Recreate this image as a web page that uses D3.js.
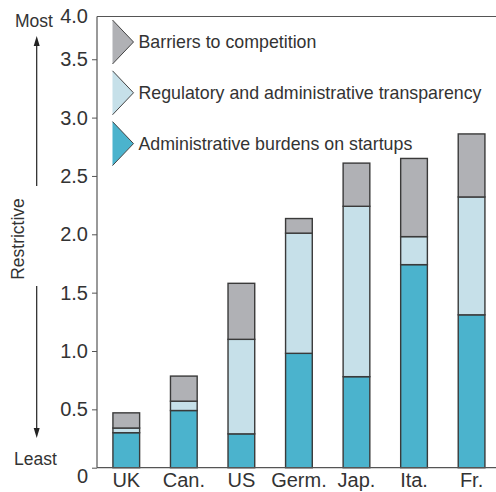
<!DOCTYPE html>
<html>
<head>
<meta charset="utf-8">
<script src="https://cdn.jsdelivr.net/npm/d3@7"></script>
<style>
  body { margin: 0; background: #fff; }
  svg text { font-family: "Liberation Sans", Arial, sans-serif; fill: #333; }
</style>
</head>
<body>
<svg id="chart" width="496" height="492"></svg>
<script>
// data
const countries = ["UK", "Can.", "US", "Germ.", "Jap.", "Ita.", "Fr."];
const startups = [0.30, 0.49, 0.29, 0.98, 0.78, 1.74, 1.31];
const transparency = [0.04, 0.08, 0.81, 1.03, 1.46, 0.24, 1.01];
const barriers = [0.13, 0.215, 0.48, 0.125, 0.37, 0.67, 0.54];
const seriesNames = ["Barriers to competition", "Regulatory and administrative transparency", "Administrative burdens on startups"];
const yTicks = [0, 0.5, 1.0, 1.5, 2.0, 2.5, 3.0, 3.5];

const colours = {
  startups: "#4bb3cd",
  transparency: "#c6e0e9",
  barriers: "#b0b1b5"
};

const svg = d3.select("#chart");
const axisX = 97;
const frameTop = 16.5;

const rows = countries.map((c, i) => ({
  country: c, startups: startups[i], transparency: transparency[i], barriers: barriers[i]
}));
const keys = ["startups", "transparency", "barriers"];
const stacked = d3.stack().keys(keys)(rows);

const x = d3.scaleBand()
  .domain(countries)
  .range([axisX + 0.5, axisX + 0.5 + 7 * 57.55])
  .paddingInner(0.536)
  .paddingOuter(0.268);

const y = d3.scaleLinear().domain([0, 4]).range([467.7, 0.9]);

// bars
svg.append("g").selectAll("g").data(stacked).enter().append("g")
    .attr("fill", d => colours[d.key])
  .selectAll("rect").data(d => d).enter().append("rect")
    .attr("x", d => x(d.data.country))
    .attr("y", d => y(d[1]))
    .attr("width", x.bandwidth())
    .attr("height", d => y(d[0]) - y(d[1]))
    .attr("stroke", "#3a3a3a")
    .attr("stroke-width", 1.4);

// y axis
const yAxis = d3.axisLeft(y)
  .tickValues(yTicks)
  .tickSize(5)
  .tickSizeOuter(0)
  .tickFormat(d => d === 0 ? "0" : d3.format(".1f")(d));

const yG = svg.append("g")
  .attr("transform", `translate(${axisX},0)`)
  .call(yAxis);
yG.select(".domain").remove();
yG.selectAll(".tick line").attr("stroke", "#555");
yG.selectAll(".tick text")
  .attr("x", -9)
  .attr("y", d => d === 0 ? 8 : 0)
  .style("font-size", "20px")
  .attr("fill", "#333");

// 4.0 sits on the frame top
svg.append("text")
  .attr("x", axisX - 9)
  .attr("y", frameTop)
  .attr("dy", "0.32em")
  .attr("text-anchor", "end")
  .style("font-size", "20px")
  .text("4.0");

// frame lines
svg.append("line")
  .attr("x1", axisX).attr("x2", axisX)
  .attr("y1", frameTop).attr("y2", y(0))
  .attr("stroke", "#555").attr("stroke-width", 1.2);
svg.append("line")
  .attr("x1", axisX).attr("x2", 496)
  .attr("y1", frameTop).attr("y2", frameTop)
  .attr("stroke", "#555").attr("stroke-width", 1.2);
svg.append("line")
  .attr("x1", axisX).attr("x2", 496)
  .attr("y1", y(0)).attr("y2", y(0))
  .attr("stroke", "#555").attr("stroke-width", 1.2);

// x labels
const xAxis = d3.axisBottom(x).tickSize(0);
const xG = svg.append("g")
  .attr("transform", `translate(0,${y(0)})`)
  .call(xAxis);
xG.select(".domain").remove();
xG.selectAll(".tick text")
  .attr("y", 19.5)
  .attr("dy", 0)
  .style("font-size", "20px")
  .attr("fill", "#333");

// legend with triangle markers
const legendColours = [colours.barriers, colours.transparency, colours.startups];
const legend = svg.append("g").selectAll("g").data(seriesNames).enter().append("g")
  .attr("transform", (d, i) => `translate(112.5,${20 + i * 50.8})`);
legend.append("path")
  .attr("d", "M0,0 L21,22 L0,44 Z")
  .attr("fill", (d, i) => legendColours[i]);
legend.append("path")
  .attr("d", "M0,0 L21,22 L0,44")
  .attr("fill", "none")
  .attr("stroke", "#444")
  .attr("stroke-width", 1);
legend.append("text")
  .attr("x", 26)
  .attr("y", 22)
  .attr("dy", "0.35em")
  .style("font-size", "17.8px")
  .text(d => d);

// left annotation: Most / Least arrow
svg.append("text").attr("x", 34).attr("y", 27)
  .attr("text-anchor", "middle").style("font-size", "17.5px").text("Most");
svg.append("text").attr("x", 35.5).attr("y", 465)
  .attr("text-anchor", "middle").style("font-size", "17.5px").text("Least");

svg.append("line")
  .attr("x1", 36.7).attr("x2", 36.7)
  .attr("y1", 42).attr("y2", 432)
  .attr("stroke", "#222").attr("stroke-width", 1.2);
svg.append("path")
  .attr("d", "M36.7,36 L33.7,46 L39.7,46 Z").attr("fill", "#222");
svg.append("path")
  .attr("d", "M36.7,438 L33.7,428 L39.7,428 Z").attr("fill", "#222");

svg.append("rect")
  .attr("x", 8).attr("y", 186).attr("width", 40).attr("height", 100)
  .attr("fill", "#fff");
svg.append("text")
  .attr("transform", "translate(24,239) rotate(-90)")
  .attr("text-anchor", "middle")
  .style("font-size", "17.5px")
  .text("Restrictive");
</script>
</body>
</html>
